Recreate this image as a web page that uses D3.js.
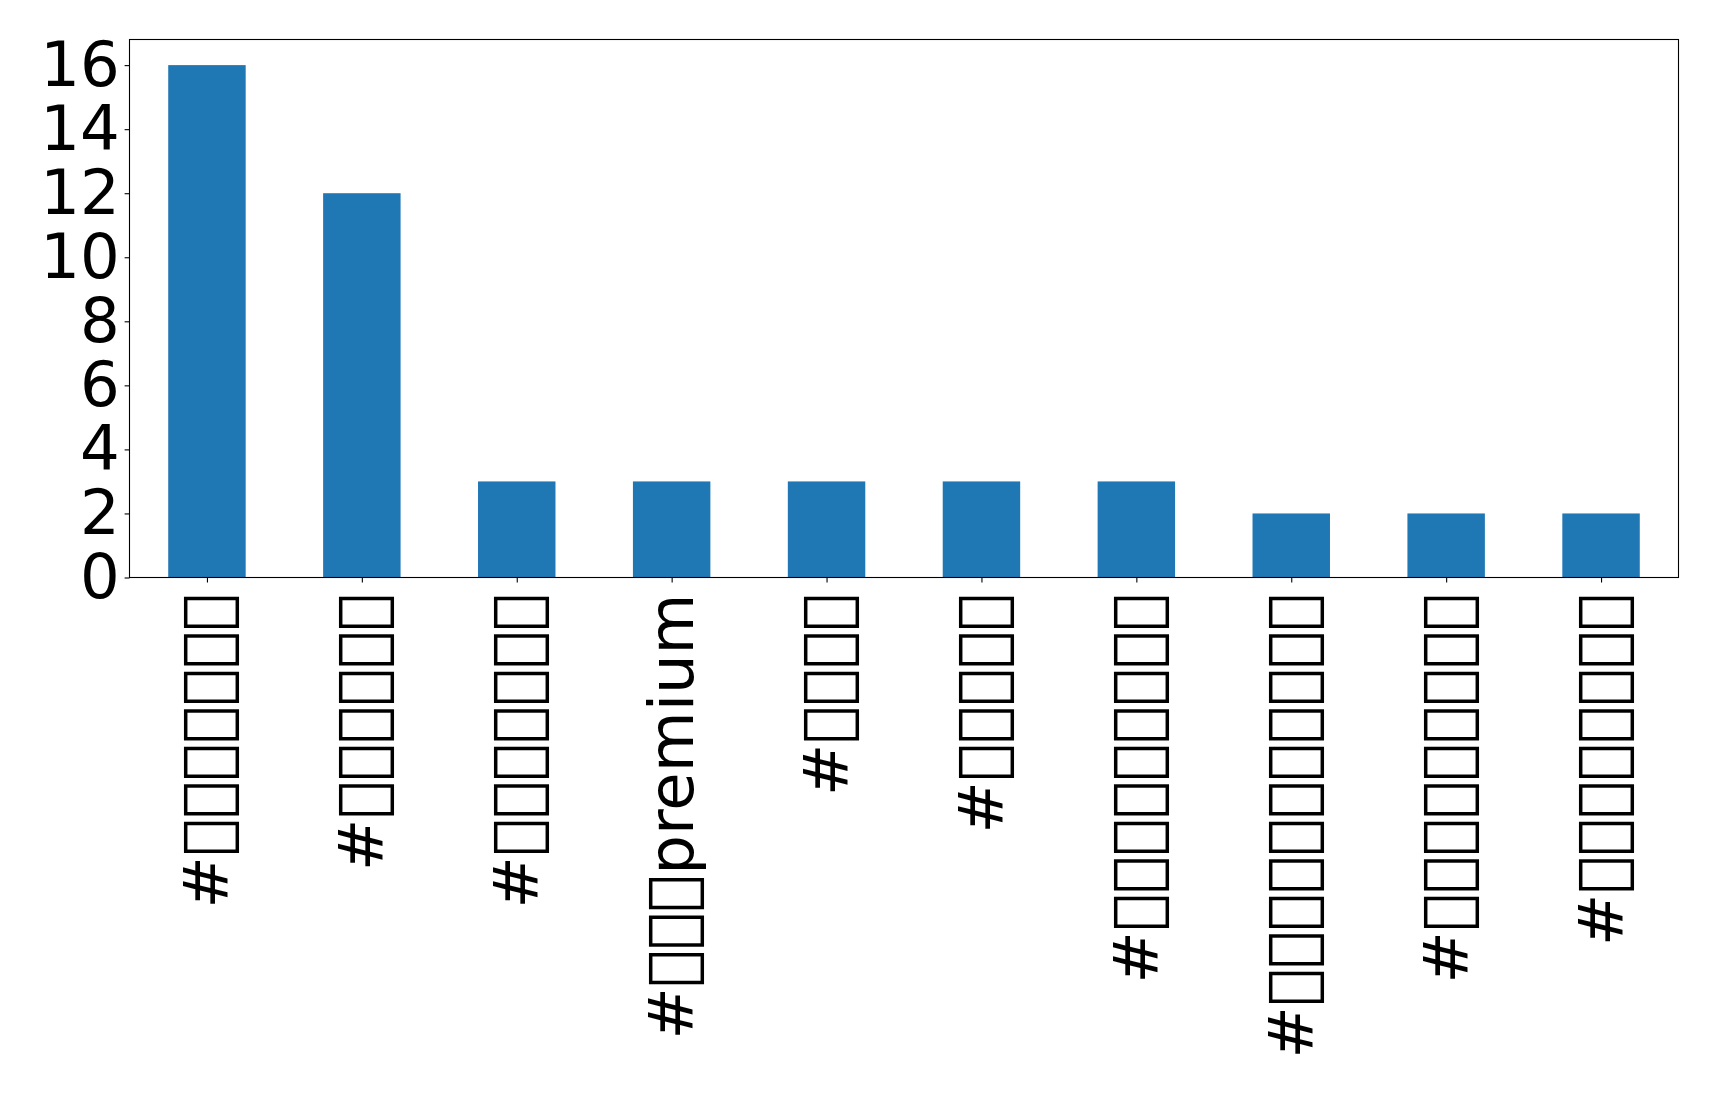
<!DOCTYPE html>
<html>
<head>
<meta charset="utf-8">
<script src="https://d3js.org/d3.v7.min.js"></script>
<style>
  html, body { margin: 0; padding: 0; background: #fff; }
  svg text { font-family: "DejaVu Sans"; }
</style>
</head>
<body>
<svg id="chart" width="1719" height="1093"></svg>
<script>
// Tag labels: the original CJK glyphs were missing (rendered as empty boxes);
// private-use characters stand in for them so they render as the same boxes.
const B = "\uE000";
const categories = [
  "#" + B.repeat(7),
  "#" + B.repeat(6),
  "#" + B.repeat(7),
  "#" + B.repeat(3) + "premium",
  "#" + B.repeat(4),
  "#" + B.repeat(5),
  "#" + B.repeat(9),
  "#" + B.repeat(11),
  "#" + B.repeat(9),
  "#" + B.repeat(8)
];
const values = [16, 12, 3, 3, 3, 3, 3, 2, 2, 2];
const yTicks = [0, 2, 4, 6, 8, 10, 12, 14, 16];

const margin = { left: 129.5, right: 1678.5, top: 39.5, bottom: 577.5 };
const FS = 62.5;
const svg = d3.select("#chart");

const x = d3.scaleLinear().domain([-0.5, categories.length - 0.5]).range([margin.left, margin.right]);
const y = d3.scaleLinear().domain([0, 16.8]).range([margin.bottom, margin.top]);
const barW = x(0.25) - x(-0.25);

svg.append("g").selectAll("rect").data(values).join("rect")
  .attr("x", (d, i) => x(i) - barW / 2)
  .attr("y", d => y(d))
  .attr("width", barW)
  .attr("height", d => y(0) - y(d))
  .attr("fill", "#1f77b4");

// y axis
const yAxis = d3.axisLeft(y).tickValues(yTicks).tickSize(4.9).tickPadding(4.9).tickFormat(d3.format("d"));
const gy = svg.append("g").attr("transform", `translate(${margin.left},0)`).call(yAxis);
gy.select(".domain").remove();
gy.selectAll("line").attr("stroke", "#000").attr("stroke-width", 1.1);
gy.selectAll("text").attr("font-size", FS).attr("font-family", "DejaVu Sans").attr("fill", "#000");

// x axis
const xAxis = d3.axisBottom(x).tickValues(d3.range(categories.length)).tickSize(4.9).tickFormat(() => "");
const gx = svg.append("g").attr("transform", `translate(0,${margin.bottom})`).call(xAxis);
gx.select(".domain").remove();
gx.selectAll("line").attr("stroke", "#000").attr("stroke-width", 1.1);

svg.append("g").selectAll("text").data(categories).join("text")
  .attr("transform", (d, i) => `translate(${x(i)},${margin.bottom + 16}) rotate(-90)`)
  .attr("text-anchor", "end")
  .attr("dominant-baseline", "central")
  .attr("font-size", FS)
  .attr("fill", "#000")
  .text(d => d);

// frame
svg.append("rect")
  .attr("x", margin.left).attr("y", margin.top)
  .attr("width", margin.right - margin.left).attr("height", margin.bottom - margin.top)
  .attr("fill", "none").attr("stroke", "#000").attr("stroke-width", 1.1);
</script>
</body>
</html>
